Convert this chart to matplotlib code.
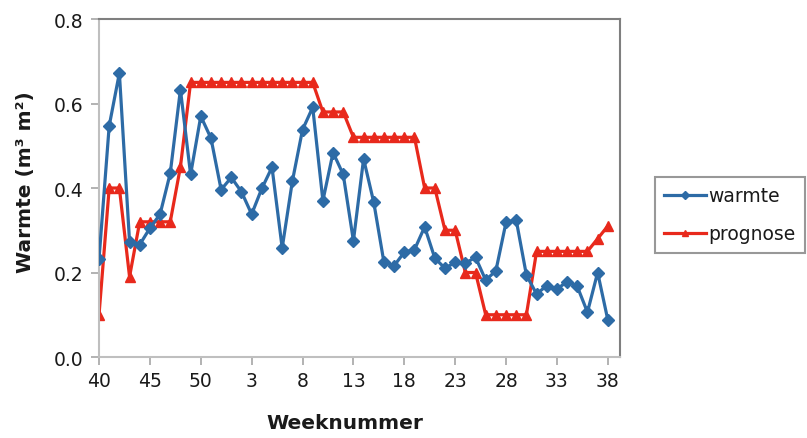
import matplotlib
matplotlib.use("Agg")
import matplotlib.pyplot as plt
import numpy as np

plt.rcParams['font.family'] = ['DejaVu Sans']

# week numbers, season running from week 40 to week 38 of the next year
weeks = list(range(40, 53)) + list(range(1, 39))

warmte = [0.232, 0.547, 0.672, 0.273, 0.266, 0.305, 0.338, 0.435, 0.633, 0.432,
          0.570, 0.518, 0.396, 0.425, 0.391, 0.338, 0.399, 0.449, 0.258, 0.416,
          0.538, 0.591, 0.370, 0.484, 0.432, 0.275, 0.469, 0.366, 0.224, 0.216,
          0.248, 0.254, 0.308, 0.234, 0.210, 0.224, 0.222, 0.236, 0.182, 0.204,
          0.319, 0.324, 0.194, 0.149, 0.169, 0.161, 0.178, 0.167, 0.106, 0.200,
          0.088]

prognose = [0.10, 0.40, 0.40, 0.19, 0.32, 0.32, 0.32, 0.32, 0.45, 0.65,
            0.65, 0.65, 0.65, 0.65, 0.65, 0.65, 0.65, 0.65, 0.65, 0.65,
            0.65, 0.65, 0.58, 0.58, 0.58, 0.52, 0.52, 0.52, 0.52, 0.52,
            0.52, 0.52, 0.40, 0.40, 0.30, 0.30, 0.20, 0.20, 0.10, 0.10,
            0.10, 0.10, 0.10, 0.25, 0.25, 0.25, 0.25, 0.25, 0.25, 0.28,
            0.31]

yticks = [0.0, 0.2, 0.4, 0.6, 0.8]

BLUE = '#2D6BA6'
RED = '#E8291C'

fig = plt.figure(figsize=(8.07, 4.39), dpi=100, facecolor='white')
ax = fig.add_axes([0.1227, 0.1845, 0.6456, 0.7699])

x = np.arange(len(weeks))
ax.plot(x, warmte, color=BLUE, lw=2.3, marker='D', ms=6.5, label='warmte', zorder=3)
ax.plot(x, prognose, color=RED, lw=2.3, marker='^', ms=7.5, label='prognose', zorder=2)

ax.set_xlim(0, 51.2)
ax.set_ylim(0, 0.8)
ax.set_yticks(yticks)
ax.set_yticklabels([f'{v:.1f}' for v in yticks])
ax.set_xticks(x[::5])
ax.set_xticklabels([str(w) for w in weeks[::5]])

ax.tick_params(axis='both', direction='out', length=6, width=1.2,
               color='#A6A6A6', labelsize=13.5, labelcolor='#1A1A1A')
ax.tick_params(axis='x', pad=4)
ax.tick_params(axis='y', pad=5)

for side in ('left', 'bottom'):
    ax.spines[side].set_color('#BFBFBF')
    ax.spines[side].set_linewidth(1.5)
for side in ('top', 'right'):
    ax.spines[side].set_color('#7F7F7F')
    ax.spines[side].set_linewidth(1.5)

ax.set_xlabel('Weeknummer', fontsize=14.5, fontweight='bold', color='#1A1A1A')
ax.xaxis.set_label_coords(0.472, -0.165)
ax.set_ylabel('Warmte (m³ m²)', fontsize=14.5, fontweight='bold', color='#1A1A1A')
ax.yaxis.set_label_coords(-0.122, 0.52)

leg = fig.legend(loc='upper left', bbox_to_anchor=(0.8116, 0.5945),
                 fontsize=13.5, frameon=True, fancybox=False, shadow=False,
                 handlelength=2.2, handletextpad=0.15, markerscale=0.6,
                 borderpad=0.5, labelspacing=1.0, borderaxespad=0)
leg.get_frame().set_edgecolor('#7F7F7F')
leg.get_frame().set_linewidth(1.5)
for t in leg.get_texts():
    t.set_color('#1A1A1A')

fig.savefig('out.png', dpi=100, facecolor='white')
